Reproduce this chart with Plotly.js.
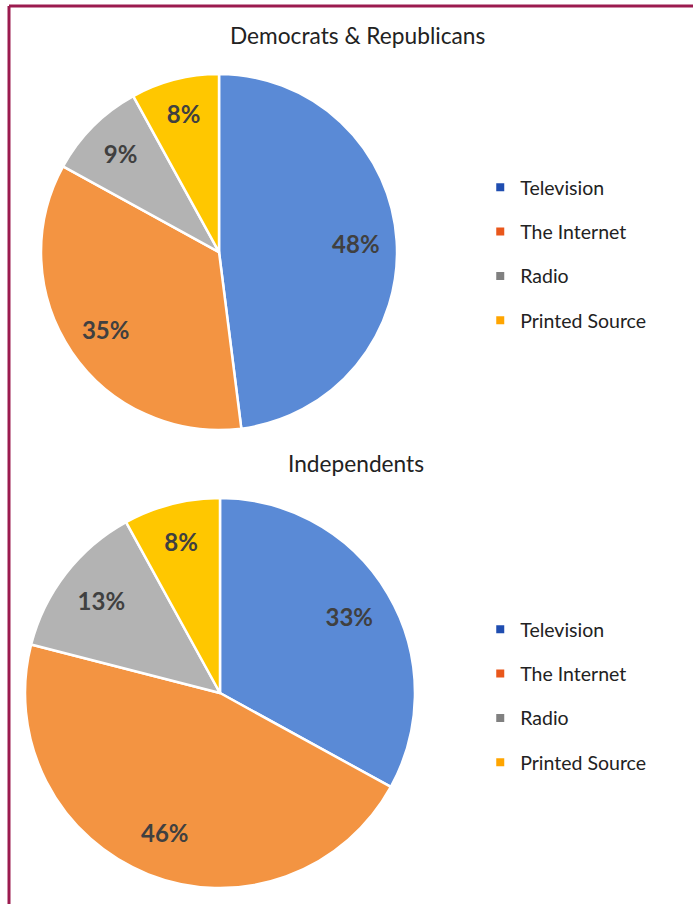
<!DOCTYPE html>
<html>
<head>
<meta charset="utf-8">
<script src="https://cdn.plot.ly/plotly-3.0.1.min.js"></script>
<style>
  html, body { margin: 0; padding: 0; background: #fff; }
  #chart { width: 693px; height: 904px; }
</style>
</head>
<body>
<div id="chart"></div>
<script>
// media sources, same order in both pies
const sources = ['Television', 'The Internet', 'Radio', 'Printed Source'];
const demRepValues = [48, 35, 9, 8];
const indepValues = [33, 46, 13, 8];
const titles = ['Democrats & Republicans', 'Independents'];

const sliceColors = ['#5A8AD6', '#F39442', '#B3B3B3', '#FFC700'];
const legendColors = ['#1F4DB0', '#E9571B', '#808080', '#FFA500'];

const FONT = 'Lato, "Open Sans", sans-serif';

const domTop = { x: [0.0592, 0.5729], y: [0.5243, 0.9181] };
const domBottom = { x: [0.0361, 0.5988], y: [0.0177, 0.4491] };

function pieTrace(values, domain) {
  return {
    type: 'pie',
    labels: sources,
    values: values,
    sort: false,
    direction: 'clockwise',
    rotation: 0,
    domain: domain,
    marker: { colors: sliceColors, line: { color: '#fff', width: 2.5 } },
    textinfo: 'none',
    hoverinfo: 'label+percent',
    showlegend: false
  };
}

// transparent ring on top, only there so the % labels sit out near the rim
function labelRing(values, domain) {
  return {
    type: 'pie',
    labels: sources,
    values: values,
    sort: false,
    direction: 'clockwise',
    rotation: 0,
    domain: domain,
    hole: 0.54,
    marker: { colors: sources.map(() => 'rgba(0,0,0,0)'), line: { width: 0 } },
    texttemplate: '%{value}%',
    textposition: 'inside',
    insidetextorientation: 'horizontal',
    textfont: { family: FONT, size: 24, color: '#404040', weight: 'bold' },
    hoverinfo: 'skip',
    showlegend: false
  };
}

// dummy traces so the legend swatches can have their own colours
function legendTraces(legendName) {
  return sources.map((name, i) => ({
    type: 'scatter',
    x: [null], y: [null],
    mode: 'markers',
    name: name,
    legend: legendName,
    legendgroup: legendName + i,
    marker: { symbol: 'square', size: 8, color: legendColors[i] },
    xaxis: 'x', yaxis: 'y',
    hoverinfo: 'skip'
  }));
}

const traces = [
  pieTrace(demRepValues, domTop),
  pieTrace(indepValues, domBottom),
  labelRing(demRepValues, domTop),
  labelRing(indepValues, domBottom)
].concat(legendTraces('legend'), legendTraces('legend2'));

const legendBase = {
  font: { family: FONT, size: 19.5, color: '#222' },
  traceorder: 'grouped',
  tracegroupgap: 16,
  itemwidth: 30,
  bgcolor: 'rgba(0,0,0,0)',
  xanchor: 'left',
  yanchor: 'top',
  itemclick: false,
  itemdoubleclick: false
};

const layout = {
  width: 693,
  height: 904,
  margin: { l: 0, r: 0, t: 0, b: 0 },
  paper_bgcolor: '#fff',
  plot_bgcolor: '#fff',
  font: { family: FONT, color: '#222' },
  xaxis: { visible: false, range: [0, 1], domain: [0, 1] },
  yaxis: { visible: false, range: [0, 1], domain: [0, 1] },
  legend: Object.assign({}, legendBase, { x: 0.693, y: 1 - 168 / 904 }),
  legend2: Object.assign({}, legendBase, { x: 0.693, y: 1 - 610 / 904 }),
  annotations: [
    { text: titles[0], x: 357 / 693, y: 1 - 35 / 904 },
    { text: titles[1], x: 356 / 693, y: 1 - 463 / 904 }
  ].map(a => Object.assign(a, {
    xref: 'paper', yref: 'paper',
    xanchor: 'center', yanchor: 'middle',
    showarrow: false,
    font: { family: FONT, size: 22.7, color: '#222' }
  })),
  shapes: [
    { type: 'line', xref: 'paper', yref: 'paper', x0: 9 / 693, x1: 1, y0: 1 - 6 / 904, y1: 1 - 6 / 904 },
    { type: 'line', xref: 'paper', yref: 'paper', x0: 9 / 693, x1: 9 / 693, y0: 0, y1: 1 - 6 / 904 }
  ].map(s => Object.assign(s, { line: { color: '#9B1B4F', width: 3 } }))
};

Plotly.newPlot('chart', traces, layout, { displayModeBar: false });
</script>
</body>
</html>
